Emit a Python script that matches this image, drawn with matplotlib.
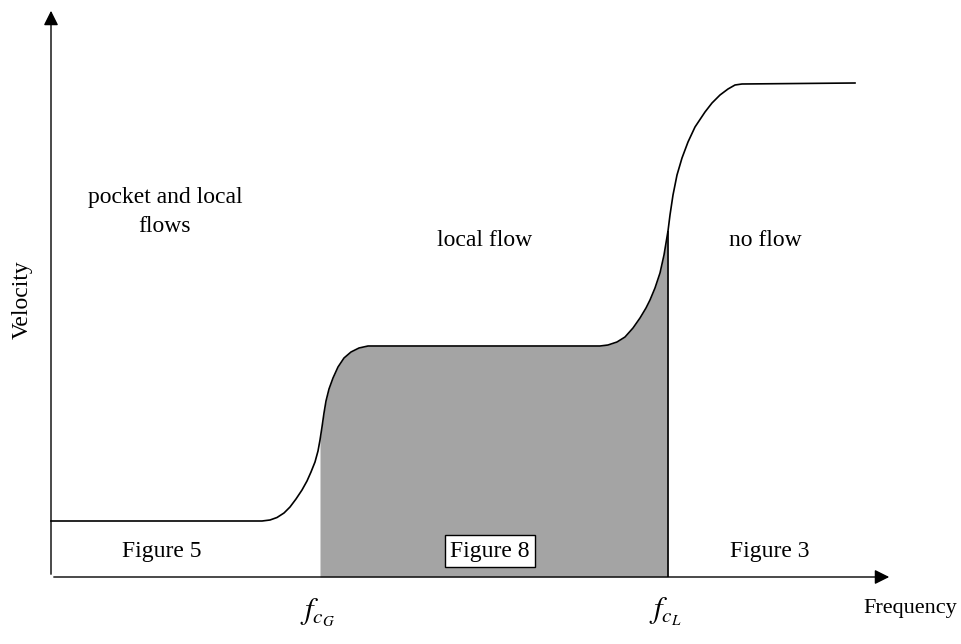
import numpy as np
import matplotlib.pyplot as plt

# curve (pixel coordinates, y downward)
fx = np.array([51, 262, 270, 277, 284, 290, 296, 302, 307, 311, 315, 318, 320, 322, 324, 326, 329,
               333, 338, 344, 351, 359, 368, 380,
               600, 608, 617, 625, 633, 640, 646, 650, 655, 660, 664, 668, 670, 673, 677, 682,
               688, 695, 705, 712, 720, 728, 735, 742, 855])
vy = np.array([521, 521, 520, 517.5, 513, 507, 499, 490, 481, 472, 462, 451, 440, 427, 413, 401, 389,
               378, 367, 358, 352, 348, 346, 346,
               346, 345, 342, 337, 328, 318, 308, 300, 288, 273, 255, 231, 215, 195, 175, 158,
               142, 127, 112, 103, 95, 89, 85, 84, 83])

f_cG = 320
f_cL = 668
base = 577

plt.rcParams['font.family'] = ['Liberation Serif', 'DejaVu Serif']
plt.rcParams['mathtext.fontset'] = 'stix'

fig = plt.figure(figsize=(9.62, 6.44), dpi=100)
ax = fig.add_axes([0, 0, 1, 1])
ax.set_xlim(0, 962)
ax.set_ylim(644, 0)
ax.axis('off')

# shaded band between the two critical frequencies
mask = (fx >= f_cG) & (fx <= f_cL)
ax.fill_between(fx, vy, base, where=mask, color='#a4a4a4', lw=0)
ax.vlines(f_cL, vy[fx == f_cL][0], base, color='black', lw=1.2)

ax.plot(fx, vy, color='black', lw=1.2)

# axes with arrows
ax.annotate('', xy=(51, 8), xytext=(51, base),
            arrowprops=dict(arrowstyle='-|>', color='black', lw=1.0, mutation_scale=22))
ax.annotate('', xy=(892, base), xytext=(51, base),
            arrowprops=dict(arrowstyle='-|>', color='black', lw=1.0, mutation_scale=22))

fs = 17
ax.text(165, 212, 'pocket and local\nflows', ha='center', va='center', fontsize=fs, linespacing=1.5)
ax.text(485, 240, 'local flow', ha='center', va='center', fontsize=fs)
ax.text(765, 240, 'no flow', ha='center', va='center', fontsize=fs)
ax.text(162, 551, 'Figure 5', ha='center', va='center', fontsize=fs)
ax.text(490, 551, 'Figure 8', ha='center', va='center', fontsize=fs,
        bbox=dict(boxstyle='square,pad=0.22', fc='white', ec='black', lw=1.0))
ax.text(770, 551, 'Figure 3', ha='center', va='center', fontsize=fs)
ax.text(22, 300, 'Velocity', ha='center', va='center', fontsize=fs, rotation=90)
ax.text(957, 608, 'Frequency', ha='right', va='center', fontsize=16)
ax.text(318, 612, r'$f_{c_G}$', ha='center', va='center', fontsize=22)
ax.text(665, 612, r'$f_{c_L}$', ha='center', va='center', fontsize=22)

fig.savefig('out.png', dpi=100)
